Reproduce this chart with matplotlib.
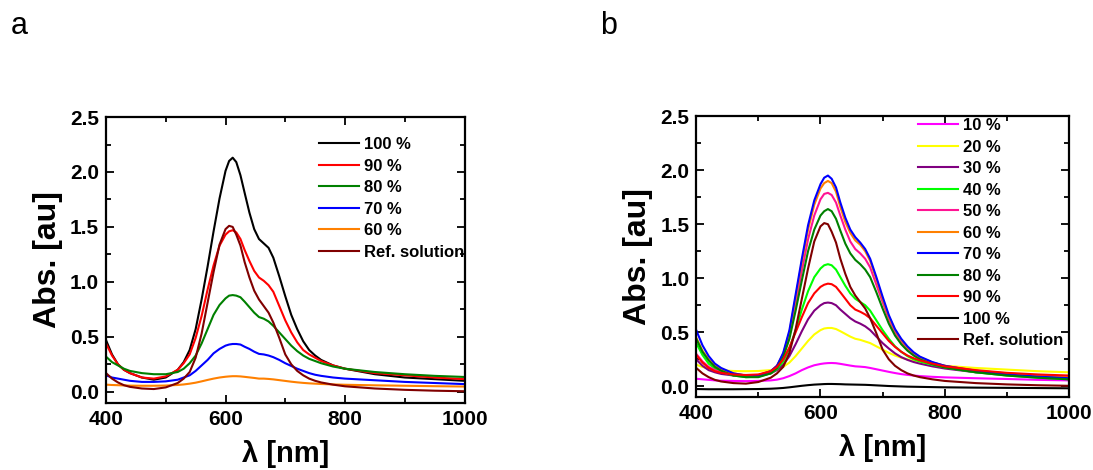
import matplotlib
matplotlib.use("Agg")
import matplotlib.pyplot as plt
from matplotlib.ticker import MultipleLocator

# wavelength grid (nm)
wl = [400, 410, 420, 430, 440, 460, 480, 500, 520, 530, 540, 550, 560, 570, 580, 590,
      600, 606, 612, 618, 625, 632, 640, 648, 656, 664, 672, 680, 690, 700, 710, 720,
      730, 740, 750, 760, 780, 800, 850, 900, 950, 1000]

# reference solution (same curve in both panels)
ref = [0.17, 0.12, 0.085, 0.06, 0.045, 0.03, 0.025, 0.04, 0.08, 0.12, 0.18, 0.31, 0.53, 0.81, 1.09, 1.34,
       1.48, 1.51, 1.50, 1.43, 1.33, 1.18, 1.04, 0.92, 0.84, 0.78, 0.72, 0.63, 0.49, 0.34, 0.25, 0.19,
       0.15, 0.12, 0.10, 0.085, 0.065, 0.05, 0.03, 0.018, 0.01, 0.005]

# panel a
a100 = [0.47, 0.34, 0.25, 0.20, 0.17, 0.13, 0.11, 0.13, 0.20, 0.27, 0.38, 0.57, 0.84, 1.14, 1.46, 1.76,
        2.01, 2.10, 2.13, 2.09, 1.97, 1.81, 1.63, 1.48, 1.39, 1.35, 1.31, 1.22, 1.05, 0.87, 0.70, 0.57,
        0.46, 0.38, 0.33, 0.29, 0.24, 0.21, 0.16, 0.13, 0.115, 0.10]
a90 = [0.44, 0.33, 0.25, 0.20, 0.17, 0.13, 0.12, 0.14, 0.20, 0.26, 0.34, 0.49, 0.69, 0.93, 1.15, 1.33,
       1.43, 1.46, 1.47, 1.45, 1.39, 1.29, 1.19, 1.10, 1.04, 1.01, 0.97, 0.91, 0.78, 0.65, 0.54, 0.45,
       0.38, 0.34, 0.31, 0.28, 0.24, 0.21, 0.17, 0.15, 0.13, 0.115]
a80 = [0.32, 0.27, 0.24, 0.21, 0.19, 0.17, 0.16, 0.16, 0.18, 0.21, 0.26, 0.33, 0.44, 0.57, 0.70, 0.79,
       0.85, 0.875, 0.88, 0.875, 0.86, 0.82, 0.77, 0.72, 0.68, 0.665, 0.64, 0.60, 0.54, 0.48, 0.42, 0.37,
       0.33, 0.30, 0.28, 0.26, 0.23, 0.21, 0.18, 0.16, 0.145, 0.135]
a70 = [0.15, 0.13, 0.12, 0.11, 0.10, 0.09, 0.09, 0.095, 0.11, 0.13, 0.15, 0.19, 0.24, 0.29, 0.35, 0.39,
       0.42, 0.43, 0.435, 0.435, 0.43, 0.41, 0.39, 0.365, 0.345, 0.34, 0.33, 0.315, 0.29, 0.26, 0.235, 0.21,
       0.19, 0.17, 0.155, 0.145, 0.13, 0.12, 0.105, 0.09, 0.08, 0.07]
a60 = [0.065, 0.062, 0.06, 0.058, 0.056, 0.055, 0.055, 0.057, 0.062, 0.067, 0.074, 0.083, 0.095, 0.108, 0.12, 0.13,
       0.137, 0.14, 0.142, 0.142, 0.14, 0.136, 0.131, 0.126, 0.12, 0.12, 0.117, 0.113, 0.106, 0.099, 0.092, 0.086,
       0.081, 0.077, 0.074, 0.071, 0.067, 0.064, 0.059, 0.055, 0.051, 0.048]

# panel b
b10 = [0.07, 0.065, 0.06, 0.055, 0.052, 0.05, 0.048, 0.05, 0.055, 0.062, 0.075, 0.095, 0.12, 0.15, 0.175, 0.195,
       0.207, 0.212, 0.215, 0.216, 0.214, 0.208, 0.20, 0.192, 0.185, 0.182, 0.178, 0.17, 0.158, 0.146, 0.134, 0.123,
       0.113, 0.106, 0.10, 0.095, 0.088, 0.083, 0.075, 0.068, 0.06, 0.055]
b20 = [0.20, 0.18, 0.165, 0.155, 0.148, 0.142, 0.14, 0.142, 0.15, 0.16, 0.18, 0.22, 0.28, 0.35, 0.42, 0.48,
       0.52, 0.535, 0.54, 0.54, 0.53, 0.51, 0.485, 0.46, 0.44, 0.43, 0.415, 0.40, 0.37, 0.34, 0.31, 0.285,
       0.265, 0.25, 0.235, 0.225, 0.205, 0.19, 0.17, 0.155, 0.14, 0.13]
b30 = [0.25, 0.19, 0.15, 0.13, 0.115, 0.10, 0.095, 0.10, 0.12, 0.15, 0.20, 0.28, 0.39, 0.51, 0.62, 0.70,
       0.75, 0.77, 0.775, 0.77, 0.75, 0.71, 0.67, 0.63, 0.60, 0.58, 0.555, 0.52, 0.46, 0.40, 0.35, 0.305,
       0.27, 0.245, 0.225, 0.21, 0.185, 0.165, 0.13, 0.11, 0.095, 0.085]
b40 = [0.40, 0.29, 0.21, 0.165, 0.135, 0.10, 0.085, 0.09, 0.12, 0.16, 0.23, 0.35, 0.52, 0.71, 0.88, 1.01,
       1.09, 1.12, 1.13, 1.12, 1.08, 1.01, 0.93, 0.86, 0.81, 0.78, 0.75, 0.70, 0.61, 0.52, 0.44, 0.37,
       0.32, 0.28, 0.25, 0.23, 0.20, 0.175, 0.13, 0.10, 0.08, 0.065]
b50 = [0.30, 0.23, 0.18, 0.15, 0.13, 0.11, 0.10, 0.105, 0.14, 0.19, 0.29, 0.47, 0.75, 1.07, 1.36, 1.58,
       1.73, 1.78, 1.79, 1.77, 1.70, 1.58, 1.45, 1.34, 1.27, 1.23, 1.18, 1.10, 0.94, 0.78, 0.62, 0.50,
       0.415, 0.35, 0.30, 0.265, 0.22, 0.19, 0.145, 0.12, 0.10, 0.09]
b60 = [0.45, 0.33, 0.25, 0.19, 0.16, 0.12, 0.10, 0.10, 0.14, 0.19, 0.30, 0.50, 0.82, 1.15, 1.45, 1.68,
       1.83, 1.88, 1.90, 1.88, 1.80, 1.66, 1.52, 1.42, 1.35, 1.31, 1.25, 1.16, 0.99, 0.81, 0.645, 0.52,
       0.43, 0.36, 0.31, 0.27, 0.22, 0.19, 0.145, 0.115, 0.095, 0.085]
b70 = [0.52, 0.38, 0.28, 0.21, 0.17, 0.12, 0.10, 0.10, 0.14, 0.19, 0.31, 0.52, 0.85, 1.18, 1.49, 1.72,
       1.87, 1.93, 1.95, 1.92, 1.84, 1.70, 1.56, 1.45, 1.38, 1.33, 1.27, 1.18, 1.01, 0.83, 0.66, 0.53,
       0.44, 0.37, 0.315, 0.275, 0.225, 0.19, 0.14, 0.11, 0.09, 0.075]
b80 = [0.44, 0.32, 0.24, 0.18, 0.145, 0.10, 0.085, 0.085, 0.12, 0.17, 0.27, 0.44, 0.70, 0.98, 1.25, 1.45,
       1.58, 1.62, 1.64, 1.62, 1.55, 1.44, 1.32, 1.23, 1.17, 1.13, 1.08, 1.01, 0.87, 0.72, 0.58, 0.47,
       0.39, 0.33, 0.285, 0.25, 0.205, 0.175, 0.13, 0.10, 0.08, 0.065]
b90 = [0.29, 0.22, 0.17, 0.14, 0.125, 0.11, 0.105, 0.11, 0.14, 0.18, 0.25, 0.36, 0.50, 0.64, 0.77, 0.86,
       0.92, 0.94, 0.95, 0.945, 0.92, 0.87, 0.81, 0.75, 0.71, 0.69, 0.665, 0.63, 0.56, 0.49, 0.42, 0.365,
       0.32, 0.285, 0.26, 0.24, 0.21, 0.185, 0.15, 0.125, 0.11, 0.10]
b100 = [-0.025, -0.026, -0.027, -0.027, -0.027, -0.027, -0.026, -0.025, -0.022, -0.019, -0.015, -0.009, -0.002, 0.005, 0.011, 0.016,
        0.019, 0.021, 0.022, 0.022, 0.021, 0.02, 0.018, 0.017, 0.016, 0.015, 0.014, 0.012, 0.009, 0.006, 0.003, 0.001,
        -0.001, -0.003, -0.004, -0.005, -0.007, -0.009, -0.012, -0.014, -0.016, -0.018]

labels_a = ["100 %", "90 %", "80 %", "70 %", "60 %", "Ref. solution"]
series_a = [a100, a90, a80, a70, a60, ref]
colors_a = ["black", "#ff0000", "#008000", "#0000ff", "#ff8000", "#800000"]

labels_b = ["10 %", "20 %", "30 %", "40 %", "50 %", "60 %", "70 %", "80 %", "90 %", "100 %", "Ref. solution"]
series_b = [b10, b20, b30, b40, b50, b60, b70, b80, b90, b100, ref]
colors_b = ["#ff00ff", "#ffff00", "#800080", "#00ff00", "#ff1493", "#ff8000",
            "#0000ff", "#008000", "#ff0000", "black", "#800000"]

plt.rcParams['font.family'] = ['Liberation Sans', 'DejaVu Sans']
plt.rcParams['font.weight'] = 'bold'

fig = plt.figure(figsize=(10.93, 4.70), dpi=100)
ax_a = fig.add_axes([0.097, 0.143, 0.328, 0.608])
ax_b = fig.add_axes([0.637, 0.155, 0.341, 0.598])


def style_axes(ax):
    ax.set_xlim(400, 1000)
    ax.set_ylim(-0.1, 2.5)
    ax.xaxis.set_major_locator(MultipleLocator(200))
    ax.xaxis.set_minor_locator(MultipleLocator(100))
    ax.yaxis.set_major_locator(MultipleLocator(0.5))
    ax.yaxis.set_minor_locator(MultipleLocator(0.25))
    ax.tick_params(which='both', direction='in', top=True, right=True, width=1.3)
    ax.tick_params(which='major', length=6, labelsize=15, pad=5)
    ax.tick_params(which='minor', length=3.5)
    for lab in ax.get_xticklabels() + ax.get_yticklabels():
        lab.set_fontweight('bold')
    ax.yaxis.set_major_formatter(plt.FormatStrFormatter('%.1f'))
    for sp in ax.spines.values():
        sp.set_linewidth(1.6)
    ax.set_xlabel("λ [nm]", fontsize=21, fontweight='bold', labelpad=8)
    ax.set_ylabel("Abs. [au]", fontsize=23, fontweight='bold', labelpad=5)


for ys, c, lab in zip(series_a, colors_a, labels_a):
    ax_a.plot(wl, ys, color=c, lw=1.5, label=lab)
style_axes(ax_a)
ax_a.legend(loc='upper left', bbox_to_anchor=(0.595, 0.93), frameon=False,
            prop={'size': 12, 'weight': 'bold'}, handlelength=2.4, handletextpad=0.3,
            labelspacing=0.39, borderpad=0, borderaxespad=0)

for ys, c, lab in zip(series_b, colors_b, labels_b):
    ax_b.plot(wl, ys, color=c, lw=1.5, label=lab)
style_axes(ax_b)
ax_b.legend(loc='upper left', bbox_to_anchor=(0.595, 0.993), frameon=False,
            prop={'size': 12, 'weight': 'bold'}, handlelength=2.4, handletextpad=0.3,
            labelspacing=0.39, borderpad=0, borderaxespad=0)

fig.text(0.010, 0.928, "a", fontsize=22, fontweight='normal')
fig.text(0.549, 0.928, "b", fontsize=22, fontweight='normal')

fig.savefig("out.png", dpi=100)
